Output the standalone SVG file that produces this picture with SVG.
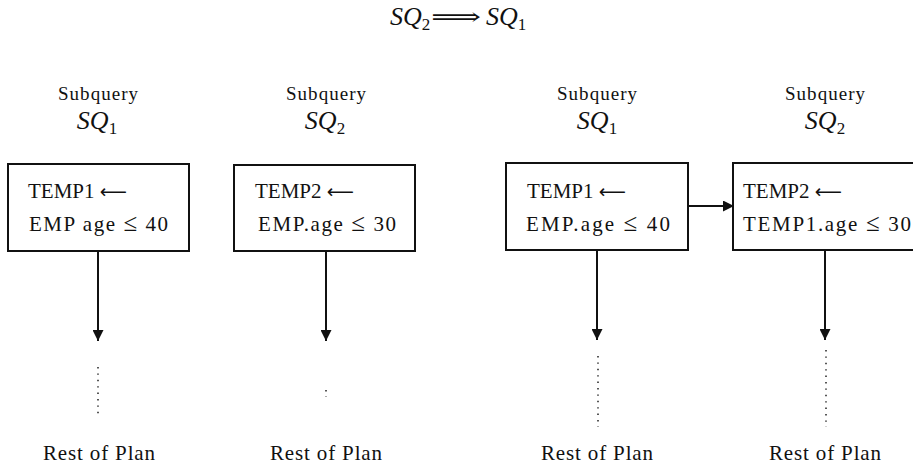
<svg xmlns="http://www.w3.org/2000/svg" width="913" height="466" viewBox="0 0 913 466">
<style>
text{font-family:"Liberation Serif","DejaVu Serif",serif;fill:#111}
.lbl{font-size:19px}
.rp{font-size:21px}
.sq{font-size:26px;font-style:italic}
.sub{font-size:17px;font-style:normal}
.bx{font-size:21px}
.le{font-size:25px}
.arr{font-family:"DejaVu Sans",sans-serif;font-size:19px}
.box{fill:#fff;stroke:#111;stroke-width:2}
.ln{stroke:#111;stroke-width:2;fill:none}
.dot{stroke:#111;stroke-width:1.4;stroke-dasharray:1.4 5;fill:none}
</style>
<defs>
<marker id="ah" viewBox="0 0 10 10" refX="10" refY="5" markerWidth="11" markerHeight="11" markerUnits="userSpaceOnUse" orient="auto">
<path d="M0,0 L10,5 L0,10 Z" fill="#111"/>
</marker>
</defs>
<rect width="913" height="466" fill="#fff"/>
<g id="title">
<text x="390" y="25" class="sq">SQ<tspan class="sub" dy="5">2</tspan></text>
<text x="431" y="25" font-family="DejaVu Sans,sans-serif" font-size="24" textLength="50" lengthAdjust="spacingAndGlyphs">⟹</text>
<text x="486" y="25" class="sq">SQ<tspan class="sub" dy="5">1</tspan></text>
</g>
<g id="sq1-left">
<text x="98" y="100" class="lbl" text-anchor="middle" textLength="80">Subquery</text>
<text x="97" y="129" class="sq" text-anchor="middle">SQ<tspan class="sub" dy="5">1</tspan></text>
<rect x="8" y="164" width="181" height="87" class="box"/>
<text x="28" y="198" class="bx">TEMP1 <tspan class="arr">⟵</tspan></text>
<text x="29" y="231" class="bx" textLength="139">EMP age <tspan class="le">≤</tspan>  40</text>
<text x="99" y="460" class="rp" text-anchor="middle" textLength="112">Rest of Plan</text>
</g>
<g id="sq2-left">
<text x="326" y="100" class="lbl" text-anchor="middle" textLength="80">Subquery</text>
<text x="325" y="129" class="sq" text-anchor="middle">SQ<tspan class="sub" dy="5">2</tspan></text>
<rect x="234" y="165" width="181" height="86" class="box"/>
<text x="255" y="198" class="bx">TEMP2 <tspan class="arr">⟵</tspan></text>
<text x="258" y="231" class="bx" textLength="138">EMP.age <tspan class="le">≤</tspan>  30</text>
<text x="326" y="460" class="rp" text-anchor="middle" textLength="112">Rest of Plan</text>
</g>
<g id="sq1-right">
<text x="597" y="100" class="lbl" text-anchor="middle" textLength="80">Subquery</text>
<text x="597" y="129" class="sq" text-anchor="middle">SQ<tspan class="sub" dy="5">1</tspan></text>
<rect x="506" y="163" width="182" height="87" class="box"/>
<text x="527" y="198" class="bx">TEMP1 <tspan class="arr">⟵</tspan></text>
<text x="526" y="231" class="bx" textLength="144">EMP.age <tspan class="le">≤</tspan>  40</text>
<text x="597" y="460" class="rp" text-anchor="middle" textLength="112">Rest of Plan</text>
</g>
<g id="sq2-right">
<text x="825" y="100" class="lbl" text-anchor="middle" textLength="80">Subquery</text>
<text x="825" y="129" class="sq" text-anchor="middle">SQ<tspan class="sub" dy="5">2</tspan></text>
<rect x="733" y="163" width="190" height="87" class="box"/>
<text x="743" y="198" class="bx">TEMP2 <tspan class="arr">⟵</tspan></text>
<text x="743" y="231" class="bx" textLength="168">TEMP1.age <tspan class="le">≤</tspan>  30</text>
<text x="825" y="460" class="rp" text-anchor="middle" textLength="112">Rest of Plan</text>
</g>
<g id="connectors">
<line x1="98" y1="251" x2="98" y2="341" class="ln" marker-end="url(#ah)"/>
<line x1="326" y1="251" x2="326" y2="341" class="ln" marker-end="url(#ah)"/>
<line x1="597" y1="250" x2="597" y2="340" class="ln" marker-end="url(#ah)"/>
<line x1="825" y1="250" x2="825" y2="340" class="ln" marker-end="url(#ah)"/>
<line x1="688" y1="206" x2="734" y2="206" class="ln" marker-end="url(#ah)"/>
<line x1="98" y1="367" x2="98" y2="416" class="dot"/>
<line x1="326" y1="390" x2="326" y2="397" class="dot"/>
<line x1="598" y1="356" x2="598" y2="427" class="dot"/>
<line x1="826" y1="350" x2="826" y2="427" class="dot"/>
</g>
</svg>
